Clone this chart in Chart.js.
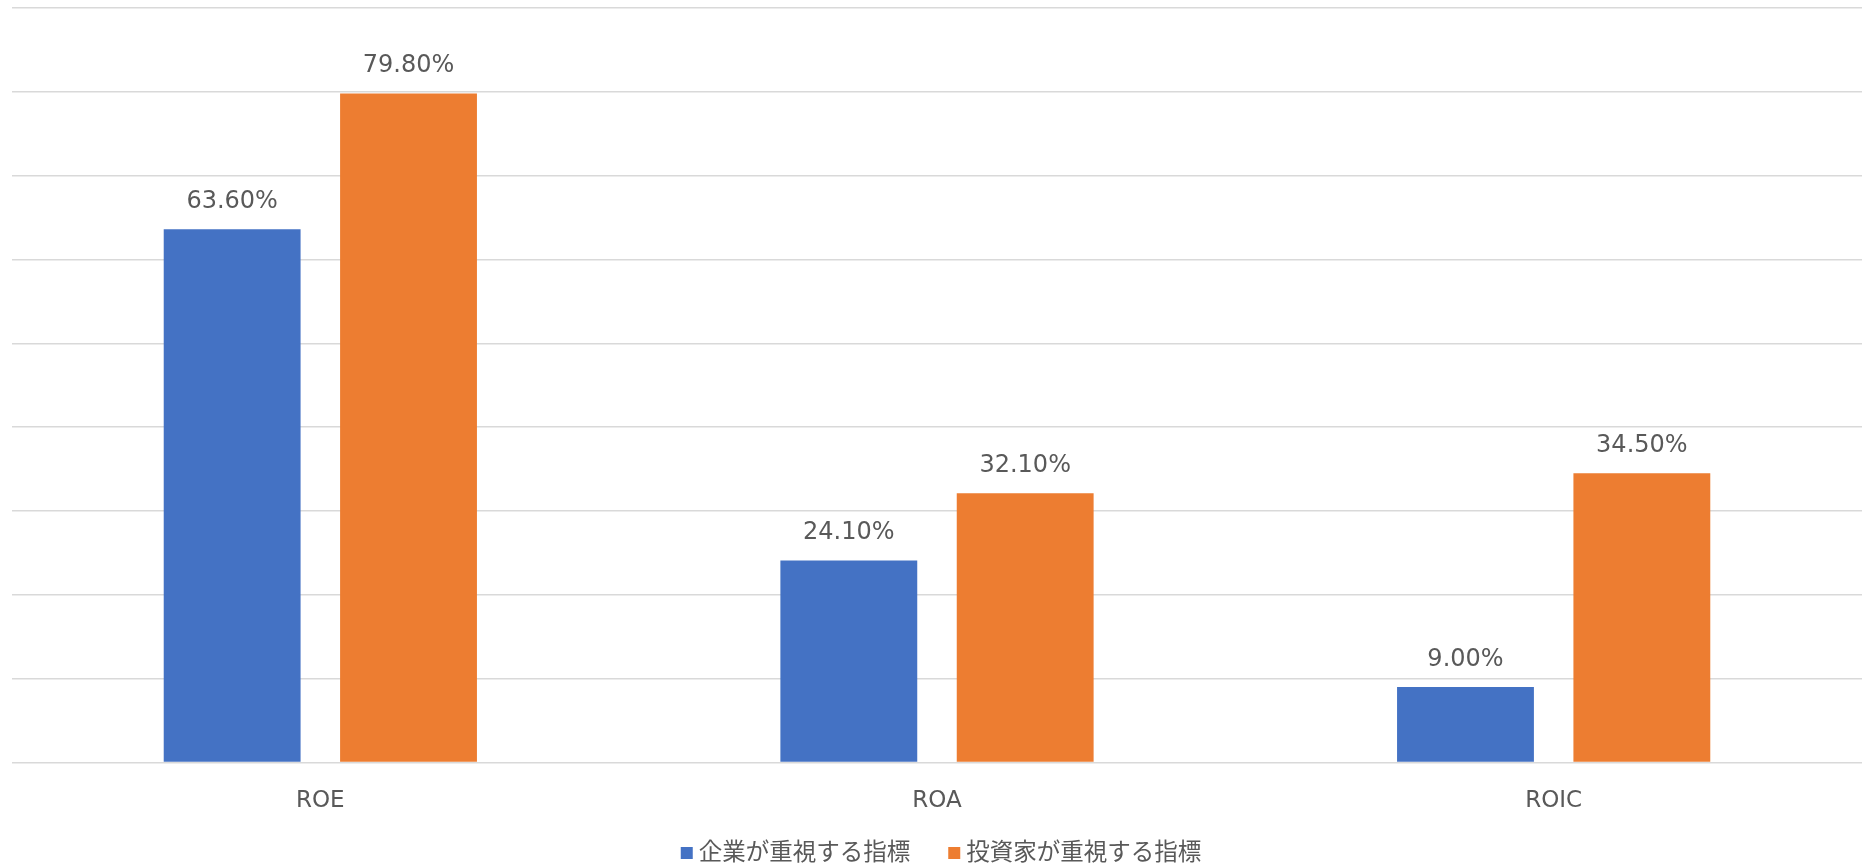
<!DOCTYPE html>
<html>
<head>
<meta charset="utf-8">
<script src="https://cdn.jsdelivr.net/npm/chart.js@4/dist/chart.umd.min.js"></script>
<style>
  html, body { margin: 0; padding: 0; background: #fff; }
  #wrap { width: 1869px; height: 865px; }
</style>
</head>
<body>
<div id="wrap"><canvas id="myChart" width="1869" height="865"></canvas></div>
<script>
// data
const categories = ['ROE', 'ROA', 'ROIC'];
const seriesNames = ['企業が重視する指標', '投資家が重視する指標'];
const companyValues = [63.6, 24.1, 9.0];
const investorValues = [79.8, 32.1, 34.5];
const yTicks = [0, 10, 20, 30, 40, 50, 60, 70, 80, 90];

const FONT = "'DejaVu Sans', 'Noto Sans CJK JP', sans-serif";
const TEXT = '#595959';

// value labels above each bar
const barLabels = {
  id: 'barLabels',
  afterDatasetsDraw(chart) {
    const ctx = chart.ctx;
    ctx.save();
    ctx.font = '24px ' + FONT;
    ctx.fillStyle = TEXT;
    ctx.textAlign = 'center';
    ctx.textBaseline = 'alphabetic';
    chart.data.datasets.forEach((ds, i) => {
      chart.getDatasetMeta(i).data.forEach((bar, j) => {
        ctx.fillText(ds.data[j].toFixed(2) + '%', bar.x, bar.y - 21);
      });
    });
    ctx.restore();
  }
};

// legend drawn below the axis, Excel style (small square, tight gap)
const bottomLegend = {
  id: 'bottomLegend',
  afterDraw(chart) {
    const ctx = chart.ctx;
    const box = 12, gapBox = 6, gapItem = 38;
    ctx.save();
    ctx.font = '23.5px ' + FONT;
    ctx.textBaseline = 'middle';
    const items = chart.data.datasets.map(ds => ({
      text: ds.label, color: ds.backgroundColor, w: ctx.measureText(ds.label).width
    }));
    let total = items.reduce((s, it) => s + box + gapBox + it.w, 0) + gapItem * (items.length - 1);
    let x = (chart.chartArea.left + chart.chartArea.right) / 2 + 4 - total / 2;
    const cy = chart.height - 12;
    items.forEach(it => {
      ctx.fillStyle = it.color;
      ctx.fillRect(x, cy - box / 2, box, box);
      x += box + gapBox;
      ctx.fillStyle = TEXT;
      ctx.fillText(it.text, x, cy + 1);
      x += it.w + gapItem;
    });
    ctx.restore();
  }
};

const ctx = document.getElementById('myChart').getContext('2d');
new Chart(ctx, {
  type: 'bar',
  data: {
    labels: categories,
    datasets: [{
      label: seriesNames[0],
      data: companyValues,
      backgroundColor: '#4472C4'
    }, {
      label: seriesNames[1],
      data: investorValues,
      backgroundColor: '#ED7D31'
    }]
  },
  options: {
    responsive: false,
    animation: false,
    layout: { padding: { top: 8, left: 12, right: 7, bottom: 25 } },
    categoryPercentage: 0.572,
    barPercentage: 0.776,
    plugins: {
      tooltip: { enabled: false },
      legend: { display: false }
    },
    scales: {
      x: {
        grid: { display: false, drawTicks: false },
        border: { display: false },
        ticks: { color: TEXT, font: { family: FONT, size: 23 }, padding: 25 }
      },
      y: {
        min: 0,
        max: 90,
        afterBuildTicks: axis => { axis.ticks = yTicks.map(v => ({ value: v })); },
        ticks: { display: false },
        grid: { color: '#d9d9d9', lineWidth: 1.5, drawTicks: false, tickLength: 0 },
        border: { display: false }
      }
    }
  },
  plugins: [barLabels, bottomLegend]
});
</script>
</body>
</html>
